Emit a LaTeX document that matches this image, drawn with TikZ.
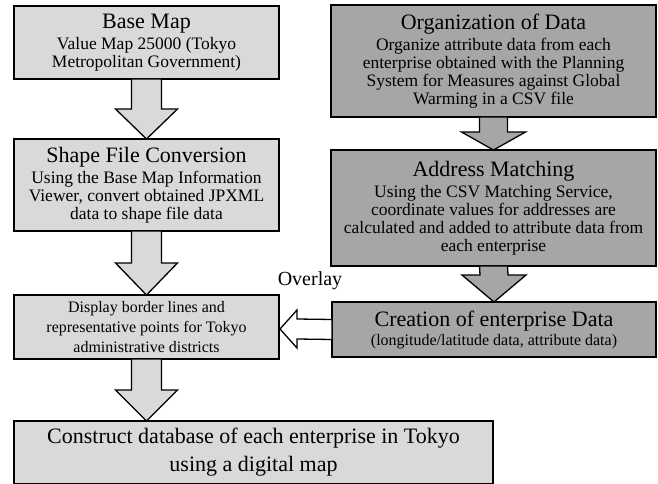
\documentclass[tikz,border=0pt]{standalone}
\usepackage{fontspec}
\setmainfont{Liberation Serif}
\usetikzlibrary{calc}
\definecolor{lightbox}{HTML}{D9D9D9}
\definecolor{darkbox}{HTML}{A6A6A6}
\newcommand{\ttl}{\fontsize{22}{24}\selectfont}
\newcommand{\bdy}{\fontsize{17.5}{18}\selectfont}
\newcommand{\sml}{\fontsize{16}{20}\selectfont}
\tikzset{
  lbox/.style={draw=black, line width=1.3pt, fill=lightbox, align=center, inner sep=0pt, outer sep=0pt},
  dbox/.style={draw=black, line width=1.3pt, fill=darkbox, align=center, inner sep=0pt, outer sep=0pt},
  larrow/.style={draw=black, line width=1.3pt, fill=lightbox, line join=miter},
  darrow/.style={draw=black, line width=1.3pt, fill=darkbox, line join=miter},
  warrow/.style={draw=black, line width=1.3pt, fill=white, line join=miter}
}
\begin{document}
\begin{tikzpicture}[x=1pt,y=-1pt]
\useasboundingbox (0,0) rectangle (658,484);
% left column
\node[lbox, font=\bdy, minimum width=265pt, minimum height=73pt] (A) at (146.5,42.5)
  {{\ttl Base Map}\\[3pt]Value Map 25000 (Tokyo\\Metropolitan Government)};
\node[lbox, font=\bdy, minimum width=265pt, minimum height=92pt] (B) at (146.5,185)
  {{\ttl Shape File Conversion}\\[3pt]Using the Base Map Information\\Viewer, convert obtained JPXML\\data to shape file data};
\node[lbox, font=\sml, minimum width=265pt, minimum height=64pt] (C) at (146.5,327)
  {Display border lines and\\representative points for Tokyo\\administrative districts};
\node[lbox, font=\ttl, minimum width=479pt, minimum height=63pt] (D) at (253.5,452.5)
  {Construct database of each enterprise in Tokyo\\[4pt]using a digital map};
% right column
\node[dbox, font=\bdy, minimum width=325pt, minimum height=112pt] (E) at (493.5,61)
  {{\ttl Organization of Data}\\[3pt]Organize attribute data from each\\enterprise obtained with the Planning\\System for Measures against Global\\Warming in a CSV file};
\node[dbox, font=\bdy, minimum width=325pt, minimum height=116pt] (F) at (493.5,208)
  {{\ttl Address Matching}\\[3pt]Using the CSV Matching Service,\\coordinate values for addresses are\\calculated and added to attribute data from\\each enterprise};
\node[dbox, font=\sml, minimum width=324pt, minimum height=55pt] (G) at (494,329.5)
  {{\ttl Creation of enterprise Data}\\[-1pt](longitude/latitude data, attribute data)};
\node (ov) at (310,281) {\fontsize{20}{22}\selectfont Overlay};
% block arrows, left column
\draw[larrow] ($(A.south)+(-15,0)$) -- ($(B.north)+(-15,-30)$) -- ($(B.north)+(-31,-30)$) -- (B.north)
  -- ($(B.north)+(31,-30)$) -- ($(B.north)+(15,-30)$) -- ($(A.south)+(15,0)$) -- cycle;
\draw[larrow] ($(B.south)+(-15,0)$) -- ($(C.north)+(-15,-32)$) -- ($(C.north)+(-31,-32)$) -- (C.north)
  -- ($(C.north)+(31,-32)$) -- ($(C.north)+(15,-32)$) -- ($(B.south)+(15,0)$) -- cycle;
\coordinate (Dt) at (C.south |- D.north);
\draw[larrow] ($(C.south)+(-15,0)$) -- ($(Dt)+(-15,-31)$) -- ($(Dt)+(-31,-31)$) -- (Dt)
  -- ($(Dt)+(31,-31)$) -- ($(Dt)+(15,-31)$) -- ($(C.south)+(15,0)$) -- cycle;
% block arrows, right column
\draw[darrow] ($(E.south)+(-14,0)$) -- ($(F.north)+(-14,-18)$) -- ($(F.north)+(-32,-18)$) -- (F.north)
  -- ($(F.north)+(32,-18)$) -- ($(F.north)+(14,-18)$) -- ($(E.south)+(14,0)$) -- cycle;
\draw[darrow] ($(F.south)+(-14,0)$) -- ($(G.north)+(-14,-27)$) -- ($(G.north)+(-32,-27)$) -- (G.north)
  -- ($(G.north)+(32,-27)$) -- ($(G.north)+(14,-27)$) -- ($(F.south)+(14,0)$) -- cycle;
% overlay arrow
\coordinate (Ct) at ($(C.east)+(1,2)$);
\draw[warrow] ($(G.west)+(0,-10)$) -- ($(Ct)+(17,-10)$) -- ($(Ct)+(17,-19)$) -- (Ct)
  -- ($(Ct)+(17,19)$) -- ($(Ct)+(17,10)$) -- ($(G.west)+(0,10)$) -- cycle;
\end{tikzpicture}
\end{document}
